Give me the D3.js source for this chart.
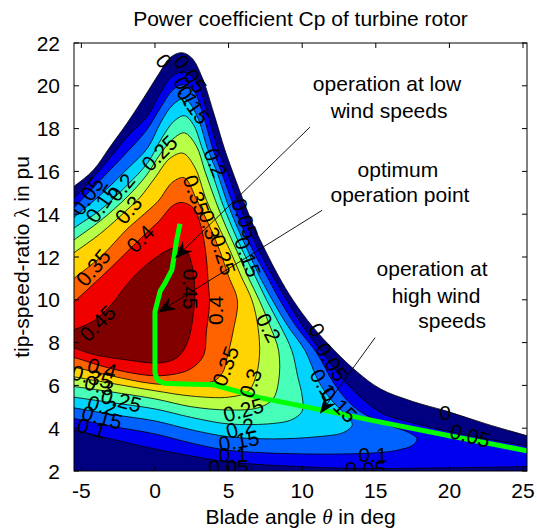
<!DOCTYPE html>
<html>
<head>
<meta charset="utf-8">
<script src="https://cdn.jsdelivr.net/npm/d3@7"></script>
<style>
  body { margin: 0; background: #fff; }
  text { font-family: "Liberation Sans", Arial, Helvetica, sans-serif; }
</style>
</head>
<body>
<svg id="chart" width="537" height="529"></svg>
<script>
// Contour levels of the power coefficient and the fill colour of the band above each level
const levels = [0, 0.05, 0.1, 0.15, 0.2, 0.25, 0.3, 0.35, 0.4, 0.45];
const bandColors = ["#000080", "#0000F1", "#0063FF", "#00D4FF", "#47FFB8",
                    "#B8FF47", "#FFD400", "#FF6300", "#F10000", "#800000"];

// Iso-Cp lines as [blade angle theta (deg), tip-speed ratio lambda] points
const cp000 = [[25.8,3.55],[25.27,3.65],[22.5,4.2],[19.8,4.8],[17.5,5.25],[15.3,5.84],[13.7,6.65],[12.2,7.62],[10.7,8.75],[9.4,9.96],[8.4,11.1],[7.5,12.3],[6.7,13.45],[6.0,14.65],[5.4,15.75],[4.75,17.0],[4.0,18.7],[3.2,20.4],[2.5,21.3],[1.8,21.55],[1.0,21.3],[0.3,20.6],[-0.8,19.4],[-1.9,18.25],[-3.0,17.2],[-4.2,16.05],[-5.5,15.3],[-6.0,15.05]];
const cp005Low = [[-6.0,4.0],[-5.5,3.92],[-3.0,3.5],[0,3.03],[2.5,2.7],[5,2.42],[10,2.2],[14,2.12],[20,2.15],[25.27,2.2],[25.8,2.2]];
const cp005High = [[25.8,3.12],[25.27,3.17],[22.5,3.5],[19.8,3.87],[17.5,4.25],[15.3,4.75],[13.0,6.1],[11.4,7.5],[10.1,8.7],[8.97,9.96],[8.0,11.1],[7.05,12.3],[6.3,13.45],[5.6,14.65],[5.0,15.8],[4.3,17.0],[3.5,18.9],[2.8,20.2],[1.9,20.65],[1.1,20.4],[0.4,19.7],[-0.5,18.6],[-1.9,17.6],[-3.7,16.1],[-5.5,14.75],[-6.0,14.45]];
const cp010 = [[-6.0,4.5],[-5.5,4.45],[-3.0,4.1],[0,3.73],[2.5,3.3],[5,2.97],[10,2.8],[15,2.85],[16.5,2.98],[17.5,3.2],[17.8,3.5],[17.3,3.78],[15.3,4.28],[13.5,5.0],[12.2,6.05],[11.0,7.5],[9.6,8.75],[8.5,9.96],[7.6,11.1],[6.65,12.3],[5.9,13.45],[5.2,14.65],[4.55,15.9],[3.95,17.0],[3.2,18.8],[2.6,19.8],[1.9,20.05],[1.2,19.8],[0.4,19.0],[-0.6,17.9],[-1.9,16.9],[-3.7,15.6],[-5.5,14.3],[-6.0,13.95]];
const cp015 = [[-6.0,5.0],[-5.5,4.95],[-3.0,4.65],[0,4.34],[2.5,3.92],[5,3.6],[8,3.5],[11,3.6],[12.8,3.8],[13.4,4.15],[13.0,4.6],[12.0,5.3],[11.1,6.2],[10.2,7.62],[9.0,8.8],[8.0,9.96],[7.1,11.1],[6.3,12.3],[5.55,13.45],[4.85,14.65],[4.25,15.9],[3.6,17.0],[2.85,18.6],[2.0,19.4],[1.2,19.1],[0.4,18.3],[-0.5,17.1],[-1.9,16.1],[-3.7,14.9],[-5.5,13.85],[-6.0,13.5]];
const cp020 = [[-6.0,5.5],[-5.5,5.45],[-3.0,5.2],[0,4.9],[2.5,4.5],[5,4.2],[8,4.22],[9.3,4.4],[10.0,4.8],[10.0,5.5],[9.7,6.4],[9.3,7.62],[8.5,8.8],[7.6,9.96],[6.8,11.1],[5.95,12.3],[5.2,13.45],[4.5,14.65],[3.9,15.9],[3.25,17.0],[2.6,18.2],[2.0,18.6],[1.3,18.35],[0.5,17.6],[-0.5,16.4],[-1.9,15.35],[-3.7,14.2],[-5.5,13.35],[-6.0,13.05]];
const cp025 = [[-6.0,6.0],[-5.5,5.95],[-3.0,5.7],[0,5.37],[2.5,5.0],[5,4.85],[7.0,4.95],[8.0,5.35],[8.4,6.2],[8.4,7.62],[7.8,8.8],[7.1,9.96],[6.3,11.1],[5.55,12.3],[4.8,13.45],[4.1,14.65],[3.4,16.0],[2.8,17.2],[2.0,17.8],[1.2,17.5],[0.35,16.8],[-0.6,15.8],[-1.9,14.8],[-3.7,13.7],[-5.5,12.8],[-6.0,12.55]];
const cp030 = [[-6.0,6.45],[-5.5,6.4],[-3.0,6.1],[0,5.75],[2.5,5.5],[5,5.45],[6.3,5.7],[6.8,6.3],[7.1,7.4],[7.0,8.7],[6.6,9.96],[5.85,11.1],[5.1,12.3],[4.3,13.45],[3.5,14.65],[2.7,16.2],[1.9,16.85],[1.0,16.6],[0.0,15.7],[-1.0,14.8],[-1.9,14.2],[-3.7,13.1],[-5.5,12.2],[-6.0,11.95]];
const cp035 = [[-6.0,6.9],[-5.5,6.85],[-3.0,6.45],[0,6.07],[2.5,6.05],[4.0,6.2],[4.6,6.6],[4.9,7.3],[5.3,8.5],[5.6,9.96],[5.0,11.1],[4.4,12.3],[3.7,13.45],[2.85,14.65],[2.0,15.7],[1.2,15.5],[0.2,14.6],[-1.0,13.85],[-1.9,13.3],[-3.7,12.0],[-5.5,11.0],[-6.0,10.7]];
const cp040 = [[-6.0,7.35],[-5.5,7.3],[-3.6,6.9],[-1.9,6.62],[0,6.45],[1.5,6.55],[2.5,6.8],[3.3,7.4],[3.5,8.56],[3.7,9.8],[3.6,11.0],[3.45,12.2],[3.1,13.5],[2.6,14.3],[1.8,14.55],[1.2,14.4],[0.3,13.7],[-1.0,12.85],[-3.0,11.5],[-5.5,9.9],[-6.0,9.6]];
const cp045 = [[-6.0,7.8],[-5.5,7.75],[-4.2,7.45],[-2.0,7.2],[0.3,7.05],[1.5,7.3],[2.2,8.0],[2.6,9.3],[2.7,10.5],[2.6,11.3],[2.2,12.2],[1.5,12.45],[0.8,12.3],[-0.8,11.5],[-1.8,10.8],[-3.0,9.75],[-4.2,9.0],[-5.5,8.6],[-6.0,8.45]];

// Pieces of each level's outline, in drawing order
const levelLines = [[cp000], [cp005Low, cp005High], [cp010], [cp015], [cp020],
                    [cp025], [cp030], [cp035], [cp040], [cp045]];

// Operating trajectory of the turbine (green curve)
const opTheta  = [1.7, 1.45, 1.3, 1.15, 0.7, 0.35, 0.0, 0.0, 0.15, 0.6, 2.0, 4.0, 7.1, 11.2, 15.0, 20.0, 25.27];
const opLambda = [13.55, 12.7, 12.0, 11.4, 10.8, 10.4, 9.45, 6.6, 6.25, 6.1, 6.07, 6.03, 5.43, 4.87, 4.33, 3.65, 2.94];

// Axis ticks
const xTicks = [-5, 0, 5, 10, 15, 20, 25];
const yTicks = [2, 4, 6, 8, 10, 12, 14, 16, 18, 20, 22];

// Inline contour labels: text, theta, lambda, rotation
const labelText  = ["0","0.05","0.1","0.15","0.25","0.2","0.05","0.15","0.2","0.3","0.35","0.4","0.45",
                    "0.35","0.3","0.25","0.05","0.15","0.2","0","0.05","0.1","0.15","0","0.05",
                    "0.4","0.35","0.3","0.25","0.2","0.15","0.1",
                    "0.35","0.3","0.25","0.2","0.15","0.1","0.05","0.1","0.05","0.4","0.45"];
const labelTheta = [0.6, 2.4, 2.1, 2.6, 0.3, 4.1, -4.6, -3.6, -2.3, -1.8, -4.2, -1.0, -3.9,
                    2.8, 3.7, 4.6, 6.1, 6.3, 7.7, 11.0, 12.0, 11.4, 12.5, 19.7, 21.4,
                    -3.6, -4.3, -3.8, -2.3, -3.6, -3.6, -4.3,
                    4.8, 6.5, 6.0, 5.8, 5.7, 5.3, 5.0, 14.8, 14.3, 4.1, 2.4];
const labelLambda = [21.15, 20.55, 19.75, 19.1, 16.85, 16.4, 14.85, 14.5, 15.25, 14.2, 11.5, 12.85, 8.9,
                     14.9, 13.5, 12.1, 13.8, 12.0, 8.7, 8.6, 7.1, 6.1, 5.1, 4.75, 3.65,
                     6.8, 6.4, 6.0, 5.3, 5.05, 4.5, 4.0,
                     6.9, 6.1, 4.85, 4.0, 3.4, 2.75, 2.2, 2.75, 2.1, 9.5, 10.5];
const labelAngle = [55, 55, 65, 55, -45, 68, -55, -55, -50, -50, -50, -45, -45,
                    70, 72, 72, 70, 70, 62, 60, 58, 58, 45, 0, 15,
                    15, 15, 15, 15, 15, 15, 15,
                    -70, -70, -15, -15, -10, 0, 0, 0, 0, -90, 90];

// Annotations: arrows from text to trajectory points (theta0, lambda0, theta1, lambda1)
const arrowFrom = [[10.53, 18.07], [11.35, 14.18], [14.95, 8.23]];
const arrowTo   = [[1.36, 11.93], [0.2, 9.4], [11.2, 4.67]];
const noteLines = ["operation at low", "wind speeds", "optimum", "operation point",
                   "operation at", "high wind", "speeds"];
const noteTheta = [15.76, 15.9, 16.5, 16.64, 18.82, 19.09, 20.18];
const noteLambda = [19.75, 18.5, 15.74, 14.55, 11.1, 9.84, 8.67];

const svg = d3.select("#chart");
const mLeft = 74, mRight = 527, mTop = 43, mBottom = 471;
const x = d3.scaleLinear().domain([-5.5, 25.27]).range([mLeft, mRight]);
const y = d3.scaleLinear().domain([2, 22]).range([mBottom, mTop]);

svg.append("defs").append("clipPath").attr("id", "plotClip")
  .append("rect").attr("x", mLeft).attr("y", mTop)
  .attr("width", mRight - mLeft).attr("height", mBottom - mTop);

const curve = d3.line().x(d => x(d[0])).y(d => y(d[1])).curve(d3.curveCatmullRom.alpha(0.5));

// region enclosed by a level: its line pieces joined outside the axes
function regionPath(pieces, i) {
  let d = pieces.map((p, k) => {
    const s = curve(p);
    return k === 0 ? s : "L" + s.slice(1);
  }).join("");
  if (i === 0) {
    d += "L" + x(-6) + "," + y(1.5) + "L" + x(26) + "," + y(1.5);
  }
  return d + "Z";
}

const plot = svg.append("g").attr("clip-path", "url(#plotClip)");

levels.forEach((lv, i) => {
  plot.append("path")
    .attr("d", regionPath(levelLines[i], i))
    .attr("fill", bandColors[i])
    .attr("stroke", "none");
});
levels.forEach((lv, i) => {
  levelLines[i].forEach(p => {
    plot.append("path")
      .attr("d", curve(p))
      .attr("fill", "none")
      .attr("stroke", "#000")
      .attr("stroke-width", 0.8);
  });
});

// operating trajectory
const opPts = opTheta.map((t, i) => [t, opLambda[i]]);
plot.append("path")
  .attr("d", d3.line().x(d => x(d[0])).y(d => y(d[1])).curve(d3.curveLinear)(opPts))
  .attr("fill", "none")
  .attr("stroke", "#00FF00")
  .attr("stroke-width", 5)
  .attr("stroke-linejoin", "round");

// contour labels
labelText.forEach((t, i) => {
  plot.append("text")
    .attr("transform", `translate(${x(labelTheta[i])},${y(labelLambda[i])}) rotate(${labelAngle[i]})`)
    .attr("text-anchor", "middle")
    .attr("dy", "0.35em")
    .attr("font-size", 21)
    .attr("fill", "#000")
    .text(t);
});

// annotation arrows
arrowFrom.forEach((a, i) => {
  const x0 = x(a[0]), y0 = y(a[1]), x1 = x(arrowTo[i][0]), y1 = y(arrowTo[i][1]);
  const ang = Math.atan2(y1 - y0, x1 - x0);
  const L = 18, W = 7, N = 12;
  const bx = x1 - L * Math.cos(ang), by = y1 - L * Math.sin(ang);
  const nx = x1 - N * Math.cos(ang), ny = y1 - N * Math.sin(ang);
  const px = -Math.sin(ang), py = Math.cos(ang);
  svg.append("line").attr("x1", x0).attr("y1", y0).attr("x2", nx).attr("y2", ny)
    .attr("stroke", "#000").attr("stroke-width", 0.9);
  svg.append("path")
    .attr("d", `M${x1},${y1}L${bx + W * px},${by + W * py}L${nx},${ny}L${bx - W * px},${by - W * py}Z`)
    .attr("fill", "#000");
});

noteLines.forEach((t, i) => {
  svg.append("text")
    .attr("x", x(noteTheta[i])).attr("y", y(noteLambda[i]))
    .attr("text-anchor", "middle").attr("font-size", 21).attr("fill", "#000")
    .text(t);
});

// axes box and ticks
svg.append("rect").attr("x", mLeft).attr("y", mTop)
  .attr("width", mRight - mLeft).attr("height", mBottom - mTop)
  .attr("fill", "none").attr("stroke", "#000").attr("stroke-width", 1);

const tickLen = 5;
xTicks.forEach(v => {
  const px = x(v);
  svg.append("line").attr("x1", px).attr("x2", px).attr("y1", mBottom).attr("y2", mBottom - tickLen).attr("stroke", "#000");
  svg.append("line").attr("x1", px).attr("x2", px).attr("y1", mTop).attr("y2", mTop + tickLen).attr("stroke", "#000");
  svg.append("text").attr("x", px).attr("y", 498).attr("text-anchor", "middle")
    .attr("font-size", 21).text(v);
});
yTicks.forEach(v => {
  const py = y(v);
  svg.append("line").attr("x1", mLeft).attr("x2", mLeft + tickLen).attr("y1", py).attr("y2", py).attr("stroke", "#000");
  svg.append("line").attr("x1", mRight).attr("x2", mRight - tickLen).attr("y1", py).attr("y2", py).attr("stroke", "#000");
  svg.append("text").attr("x", 60).attr("y", py + 7.5).attr("text-anchor", "end")
    .attr("font-size", 21).text(v);
});

// titles
svg.append("text").attr("x", (mLeft + mRight) / 2).attr("y", 26).attr("text-anchor", "middle")
  .attr("font-size", 21).text("Power coefficient Cp of turbine rotor");

const xl = svg.append("text").attr("x", (mLeft + mRight) / 2).attr("y", 524)
  .attr("text-anchor", "middle").attr("font-size", 21);
xl.append("tspan").text("Blade angle ");
xl.append("tspan").attr("font-family", "'Liberation Serif', 'DejaVu Serif', serif").attr("font-style", "italic").text("θ");
xl.append("tspan").text(" in deg");

const yl = svg.append("text").attr("transform", `translate(29,${(mTop + mBottom) / 2}) rotate(-90)`)
  .attr("text-anchor", "middle").attr("font-size", 21);
yl.append("tspan").text("tip-speed-ratio ");
yl.append("tspan").attr("font-family", "'Liberation Serif', 'DejaVu Serif', serif").text("λ");
yl.append("tspan").text(" in pu");
</script>
</body>
</html>
